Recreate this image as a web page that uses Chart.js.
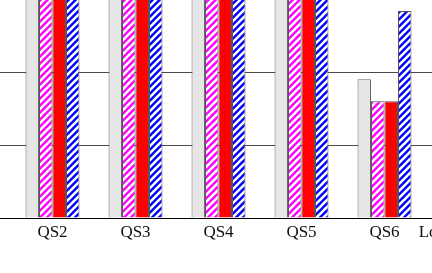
<!DOCTYPE html>
<html>
<head>
<meta charset="utf-8">
<script src="https://cdn.jsdelivr.net/npm/chart.js@4.4.1/dist/chart.umd.min.js"></script>
<style>
  html, body { margin: 0; padding: 0; overflow: hidden; width: 432px; height: 273px; background: #fff; }
  #wrap { position: absolute; left: -150px; top: -170px; }
</style>
</head>
<body>
<div id="wrap"><canvas id="chart" width="670" height="443"></canvas></div>
<script>
// categories and series values (first and last groups are mostly cut off in the picture)
const categories = ['QS1', 'QS2', 'QS3', 'QS4', 'QS5', 'QS6', 'Lower bounds']
const grayValues = [78, 80, 82, 84, 86, 38, null]
const magentaValues = [74, 76, 78, 80, 82, 32, null]
const redValues = [80, 82, 84, 86, 88, 32, null]
const blueValues = [72, 74, 76, 78, 80, 56.7, null]
const yTicks = [0, 20, 40, 60, 80, 100]

// diagonal white stripes on a coloured tile
function makeHatch (color, size, stripe) {
  let c = document.createElement('canvas')
  c.width = size
  c.height = size
  let g = c.getContext('2d')
  g.fillStyle = color
  g.fillRect(0, 0, size, size)
  g.strokeStyle = '#ffffff'
  g.lineWidth = stripe
  g.beginPath()
  g.moveTo(-1, 1); g.lineTo(1, -1)
  g.moveTo(-1, size + 1); g.lineTo(size + 1, -1)
  g.moveTo(size - 1, size + 1); g.lineTo(size + 1, size - 1)
  g.stroke()
  return g.createPattern(c, 'repeat')
}

let ctx = document.getElementById('chart').getContext('2d')
let magentaHatch = makeHatch('#ff00ff', 7, 2.6)
let blueHatch = makeHatch('#0000ff', 7, 2.6)

let serif = { family: '"Liberation Serif", "Times New Roman", serif', size: 17 }

let myChart = new Chart(ctx, {
  type: 'bar',
  data: {
    labels: categories,
    datasets: [
      { label: 'A', data: grayValues, backgroundColor: '#e6e6e6', borderColor: '#666666', borderWidth: 1 },
      { label: 'B', data: magentaValues, backgroundColor: magentaHatch, borderColor: '#555555', borderWidth: 1 },
      { label: 'C', data: redValues, backgroundColor: '#ff0000', borderColor: '#555555', borderWidth: 1 },
      { label: 'D', data: blueValues, backgroundColor: blueHatch, borderColor: '#555555', borderWidth: 1 }
    ]
  },
  options: {
    responsive: false,
    animation: false,
    devicePixelRatio: 1,
    layout: { padding: { top: 23, right: 11, left: 0, bottom: 0 } },
    plugins: { legend: { display: false }, tooltip: { enabled: false } },
    datasets: { bar: { categoryPercentage: 0.65, barPercentage: 1 } },
    scales: {
      x: {
        grid: { display: false },
        border: { color: '#000000', width: 1 },
        ticks: { color: '#111111', font: serif, padding: -4, maxRotation: 0, autoSkip: false },
        afterFit: function (scale) { scale.height = 55 }
      },
      y: {
        min: 0,
        max: 100,
        afterBuildTicks: function (scale) { scale.ticks = yTicks.map(v => ({ value: v })) },
        grid: { color: '#4a4a4a', lineWidth: 1, drawTicks: false },
        border: { color: '#000000', width: 1 },
        ticks: { color: '#111111', font: serif, padding: 6 },
        afterFit: function (scale) { scale.width = 78 }
      }
    }
  }
})
</script>
</body>
</html>
